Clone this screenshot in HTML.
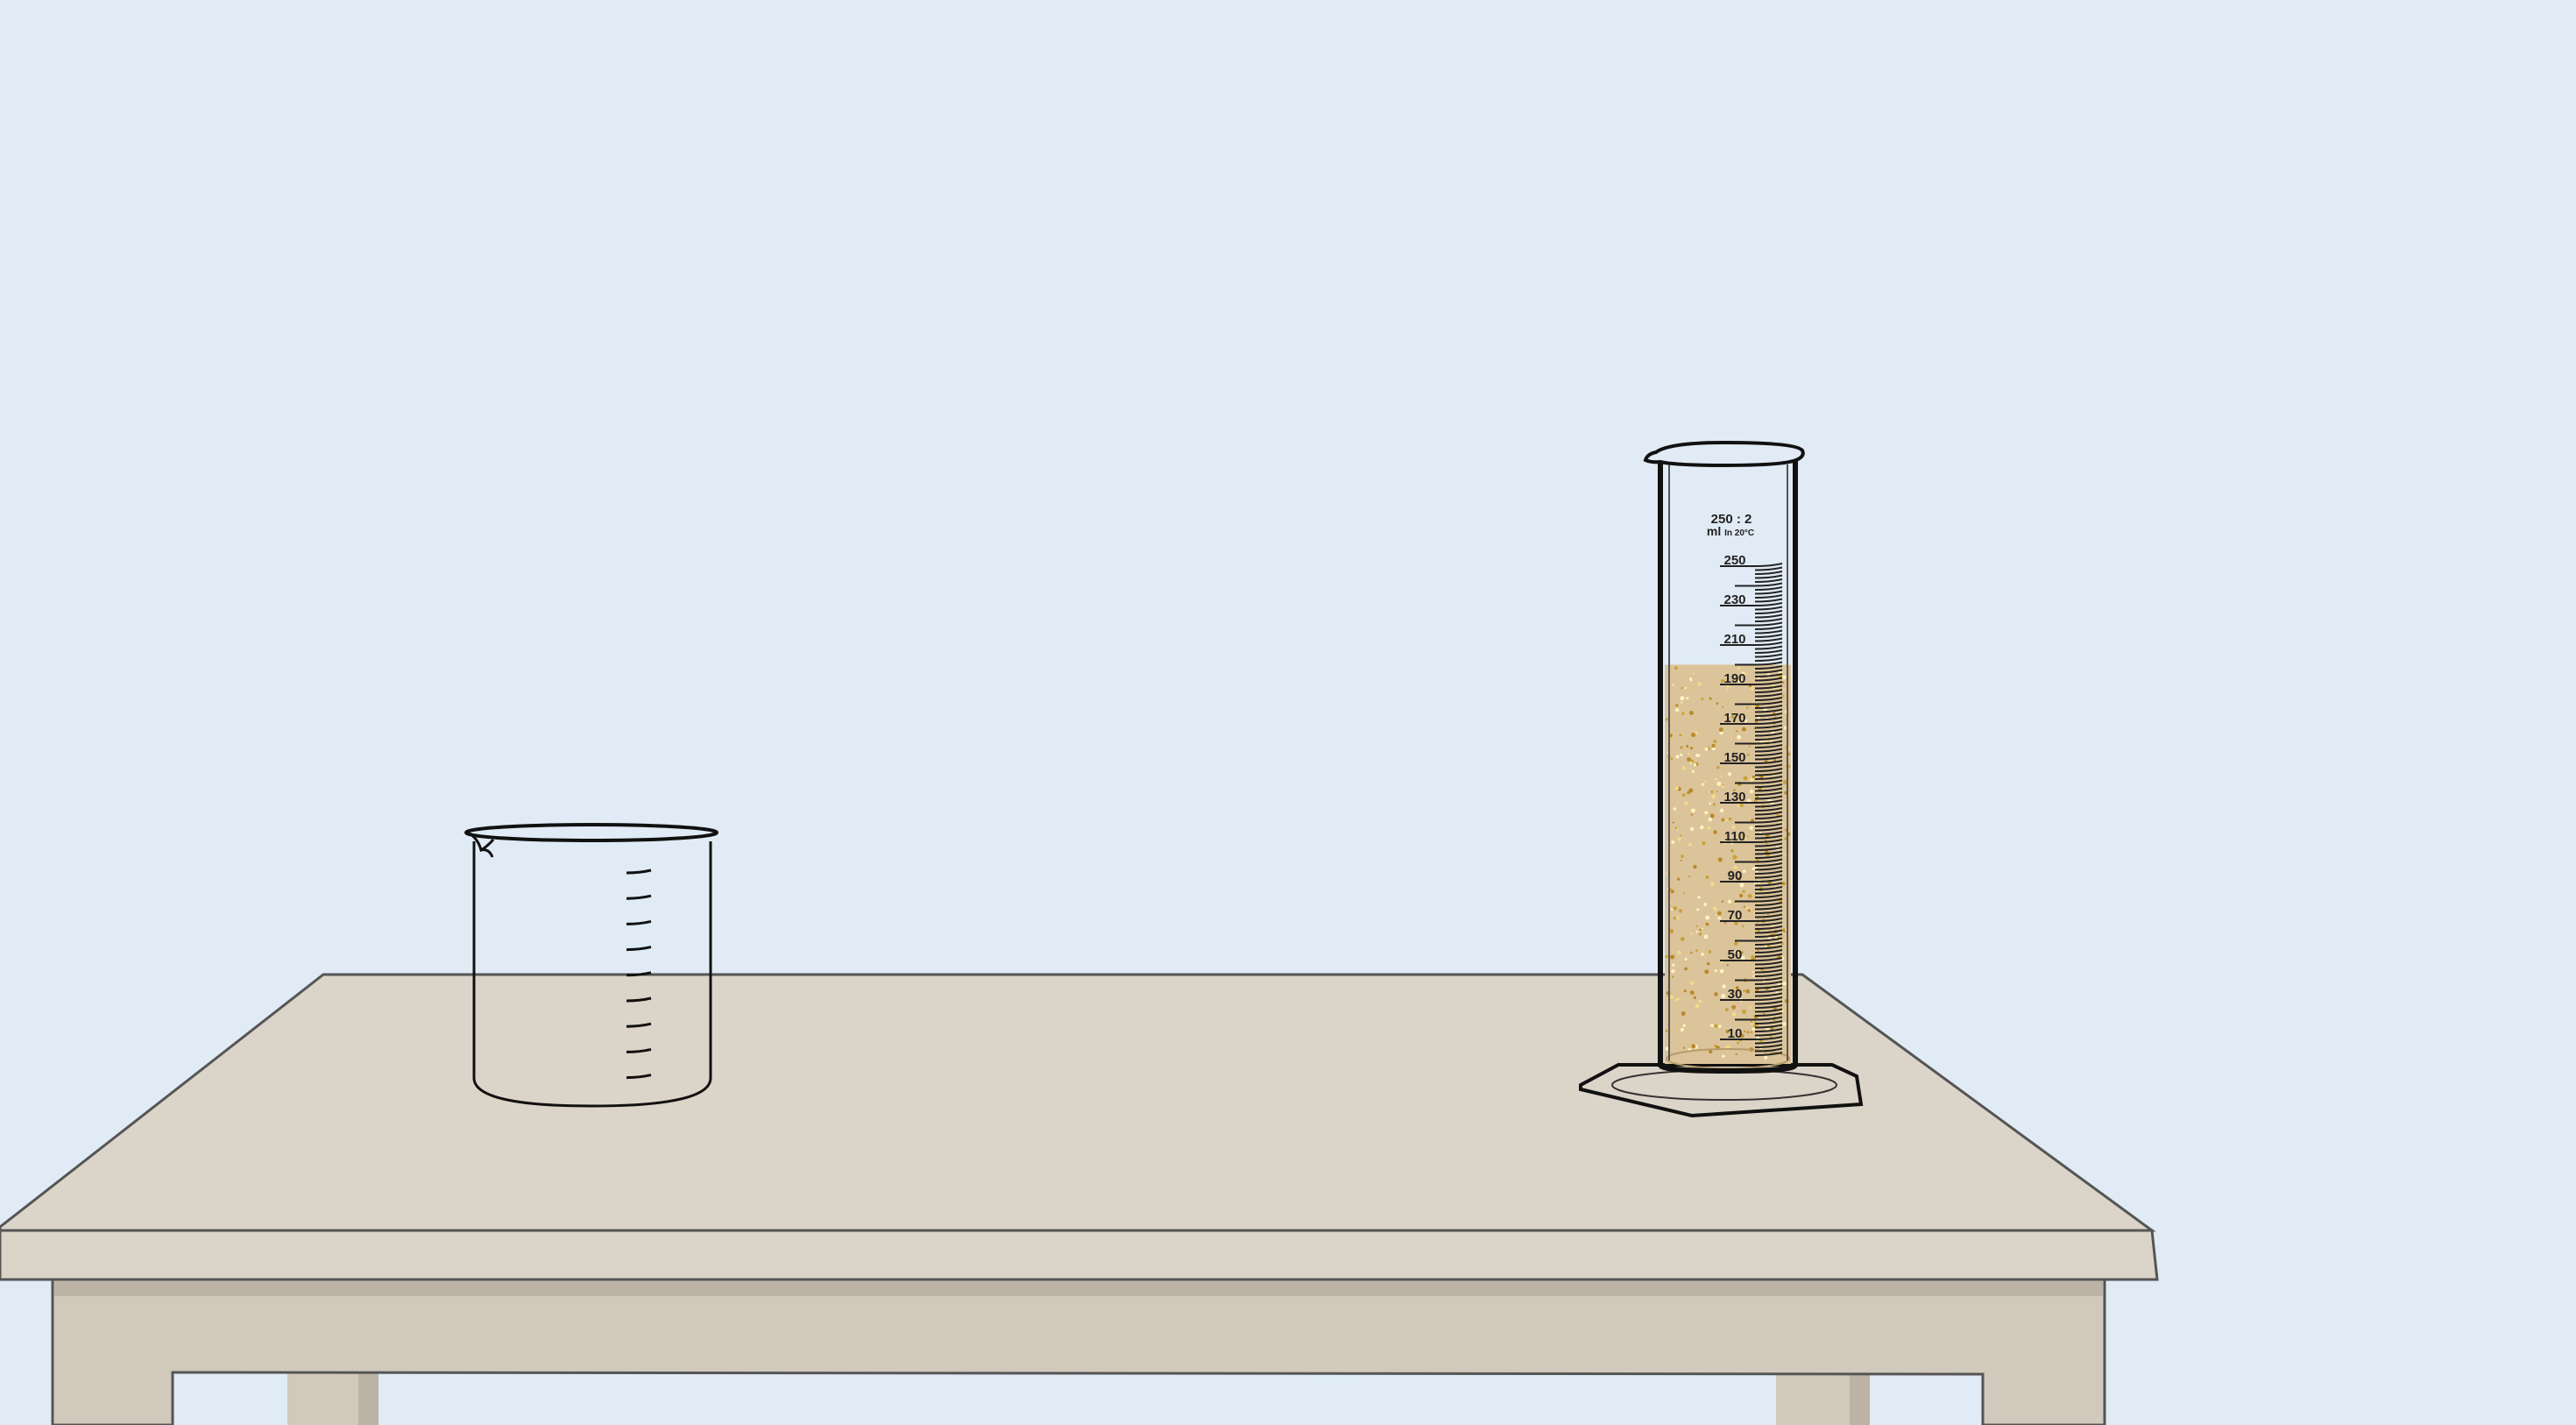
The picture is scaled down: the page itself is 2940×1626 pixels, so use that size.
<!DOCTYPE html>
<html><head><meta charset="utf-8"><style>
html,body{margin:0;padding:0;background:#e0ebf5;}
svg{display:block}
text{font-family:"Liberation Sans",sans-serif;font-weight:bold;fill:#222}
</style></head><body>
<svg id="scene" width="2940" height="1626" viewBox="0 0 2940 1626">
<rect x="0" y="0" width="2940" height="1626" fill="#e0ebf5"/>
<g>
 <rect x="328" y="1560" width="104" height="66" fill="#d1c9bc"/>
 <rect x="409" y="1560" width="23" height="66" fill="#bcb3a6"/>
 <rect x="2027" y="1560" width="107" height="66" fill="#d1c9bc"/>
 <rect x="2111" y="1560" width="23" height="66" fill="#bcb3a6"/>
 <path d="M60 1460 H2402 V1626 H2263 V1568 L197 1566 V1626 H60 Z" fill="#d1c9bc" stroke="#555" stroke-width="3"/>
 <rect x="62" y="1462" width="2338" height="17" fill="#bcb3a6"/>
 <path d="M369 1112 L2057 1112 L2456 1404 L0 1404 L0 1400 Z" fill="#dbd4c8" stroke="#555" stroke-width="3"/>
 <path d="M0 1404 H2456 L2462 1460 H0 Z" fill="#dbd4c8" stroke="#555" stroke-width="3"/>
</g>
<g fill="none" stroke="#111">
 <path d="M541 960 V1230 Q541 1262 675 1262 Q811 1262 811 1230 V960" stroke-width="3"/>
 <ellipse cx="675" cy="950" rx="143" ry="9" stroke-width="4"/>
 <path d="M536 951 Q546 958 549 970 Q556 966 563 958 M549 970 Q558 968 562 978" stroke-width="3"/>
 <g id="beakerTicks" stroke-width="3"></g>
</g>
<g>
 <path d="M1804 1238 L1847 1215 L2091 1215 L2119 1228 L2124 1260 L1931 1273 L1804 1243 Z" fill="#dbd4c8" stroke="#111" stroke-width="4"/>
 <ellipse cx="1968" cy="1238" rx="128" ry="17" fill="none" stroke="#333" stroke-width="2"/>
 <rect id="liquid" x="1900" width="144" fill="#dcc49a"/>
 <g id="speckles"></g>
 <ellipse cx="1972" cy="1208" rx="70" ry="11" fill="none" stroke="#b79a6a" stroke-width="2"/>
 <path d="M1895 525 V1215 Q1895 1222 1972 1222 Q2049 1222 2049 1215 V525" fill="none" stroke="#111" stroke-width="6"/>
 <path d="M1905 530 V1210 M2040 530 V1210" stroke="#555" stroke-width="2"/>
 <path d="M1878 525 Q1880 518 1890 516 Q1905 505 1968 505 Q2050 505 2057 514 Q2060 520 2052 524 Q2040 531 1968 531 Q1912 531 1895 527 Q1885 528 1878 525 Z" fill="#e0ebf5" stroke="#111" stroke-width="4"/>
 <text x="1976" y="597" font-size="15" text-anchor="middle">250 : 2</text>
 <text x="1975" y="611" font-size="14" text-anchor="middle">ml <tspan font-size="10">In 20°C</tspan></text>
 <g id="cylTicks" stroke="#222" stroke-width="2" fill="none"></g>
 <g id="cylLabels"></g>
</g>
</svg>
<script>
const liquidVolume = [200];
const majorLabels = [250,230,210,190,170,150,130,110,90,70,50,30,10];
const beakerTickCount = [9];
const NS='http://www.w3.org/2000/svg';
function yVol(v){return 1208.5 - v*2.25;}
const liq=document.getElementById('liquid');
const liqTop=yVol(liquidVolume[0]);
liq.setAttribute('y', liqTop);
liq.setAttribute('height', 1214 - liqTop);
let seed=7;function rnd(){seed=(seed*16807)%2147483647;return seed/2147483647;}
const sp=document.getElementById('speckles');
for(let i=0;i<420;i++){
 const c=document.createElementNS(NS,'circle');
 c.setAttribute('cx',1902+rnd()*140);
 c.setAttribute('cy',liqTop+3+rnd()*(1212-liqTop-3));
 c.setAttribute('r',1+rnd()*1.6);
 c.setAttribute('fill',['#c9a13a','#f0dc8a','#fff3c0','#b98a2a'][Math.floor(rnd()*4)]);
 sp.appendChild(c);
}
const ticks=document.getElementById('cylTicks');
for(let v=2;v<=250;v+=2){
 const y=yVol(v);
 const p=document.createElementNS(NS,'path');
 let x0=2003;
 if(v%20===10) x0=1963; else if(v%10===0) x0=1980;
 p.setAttribute('d',`M${x0} ${y} L2003 ${y} Q2020 ${y} 2034 ${y-3}`);
 
 
 ticks.appendChild(p);
}
const lab=document.getElementById('cylLabels');
majorLabels.forEach(v=>{
 const t=document.createElementNS(NS,'text');
 t.setAttribute('x',1980);t.setAttribute('y',yVol(v)-2);
 t.setAttribute('font-size','15');t.setAttribute('text-anchor','middle');
 t.textContent=v;
 
 
 lab.appendChild(t);
});
const bt=document.getElementById('beakerTicks');
for(let i=0;i<beakerTickCount[0];i++){
 const y=994+i*29.2;
 const p=document.createElementNS(NS,'path');
 p.setAttribute('d',`M715 ${y+2} Q730 ${y+2} 743 ${y-1}`);
 
 
 bt.appendChild(p);
}
</script>
</body></html>
